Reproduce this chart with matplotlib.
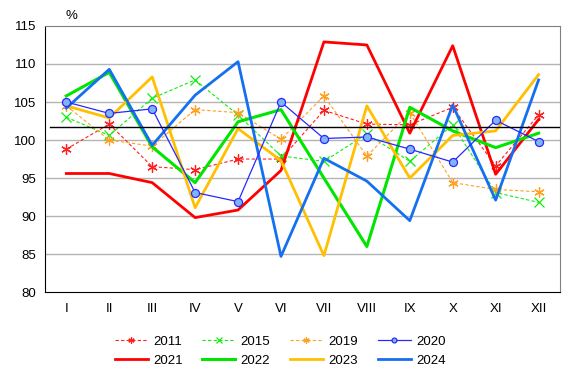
import numpy as np
import matplotlib.pyplot as plt

plt.rcParams['font.family'] = ['Liberation Sans', 'DejaVu Sans']

months = ['I', 'II', 'III', 'IV', 'V', 'VI', 'VII', 'VIII', 'IX', 'X', 'XI', 'XII']

y2011 = [98.8, 102.1, 96.5, 96.1, 97.5, 97.5, 103.9, 102.1, 102.0, 104.3, 96.6, 103.3]
y2015 = [103.0, 100.6, 105.5, 107.9, 103.3, 97.9, 97.2, 100.8, 97.2, 102.0, 93.1, 91.8]
y2019 = [104.5, 100.0, 99.2, 104.0, 103.6, 100.1, 105.8, 97.9, 103.6, 94.4, 93.5, 93.2]
y2020 = [105.0, 103.5, 104.1, 93.1, 91.9, 105.0, 100.2, 100.4, 98.8, 97.1, 102.6, 99.8]
y2021 = [95.6, 95.6, 94.4, 89.8, 90.8, 96.0, 112.9, 112.5, 100.9, 112.4, 95.5, 102.7]
y2022 = [105.8, 108.9, 99.1, 94.4, 102.4, 104.0, 95.0, 86.0, 104.3, 101.2, 99.0, 100.9]
y2023 = [104.5, 102.9, 108.3, 91.1, 101.5, 97.3, 84.8, 104.5, 95.0, 100.6, 101.2, 108.6]
y2024 = [104.2, 109.3, 99.3, 105.9, 110.3, 84.7, 97.6, 94.6, 89.4, 104.6, 92.1, 107.9]
ref_level = 101.7

x = np.arange(len(months))

fig = plt.figure(figsize=(5.75, 3.76), dpi=100)
ax = fig.add_axes([0.078, 0.223, 0.896, 0.708])

ax.set_ylim(80, 115)
ax.set_xlim(-0.5, 11.5)
ax.set_yticks(range(80, 116, 5))
for v in range(85, 115, 5):
    ax.axhline(v, color='#b4b4b4', lw=1, zorder=0)

h = {}
h['2011'], = ax.plot(x, y2011, color='#ff2020', ls='--', lw=0.8, dashes=(3, 2),
                     marker=(6, 2, 0), ms=7.5, mew=0.9, label='2011')
h['2015'], = ax.plot(x, y2015, color='#10ee10', ls='--', lw=0.8, dashes=(3, 2),
                     marker='x', ms=6.5, mew=0.9, label='2015')
h['2019'], = ax.plot(x, y2019, color='#ffa020', ls='--', lw=0.8, dashes=(3, 2),
                     marker=(6, 2, 0), ms=7.5, mew=0.9, label='2019')
h['2021'], = ax.plot(x, y2021, color='#ff0000', lw=2, label='2021')
h['2022'], = ax.plot(x, y2022, color='#00e600', lw=2.2, label='2022')
h['2023'], = ax.plot(x, y2023, color='#ffc000', lw=2, label='2023')
h['2024'], = ax.plot(x, y2024, color='#1470f0', lw=2, label='2024')
h['2020'], = ax.plot(x, y2020, color='#2828ff', lw=0.9, marker='o', ms=5.8,
                     mfc='#80b4f4', mec='#2828ff', mew=0.9, label='2020')

ax.axhline(ref_level, color='black', lw=1, xmin=0.01, xmax=1.0, zorder=5)

ax.set_xticks(x)
ax.set_xticklabels(months)
ax.tick_params(length=0, labelsize=9.5, pad=8)
ax.tick_params(axis='y', pad=6)
for s in ['top', 'right']:
    ax.spines[s].set_color('#808080')
for s in ['left', 'bottom']:
    ax.spines[s].set_color('black')

fig.text(0.125, 0.958, '%', fontsize=9.5, ha='center', va='center')

order = ['2011', '2021', '2015', '2022', '2019', '2023', '2020', '2024']
fig.legend([h[k] for k in order], order, ncol=4, loc='center',
           bbox_to_anchor=(0.487, 0.066), frameon=False, fontsize=9.5,
           handlelength=2.5, columnspacing=1.5, handletextpad=0.4,
           labelspacing=0.5, markerscale=0.6)

fig.savefig('out.png', dpi=100)
